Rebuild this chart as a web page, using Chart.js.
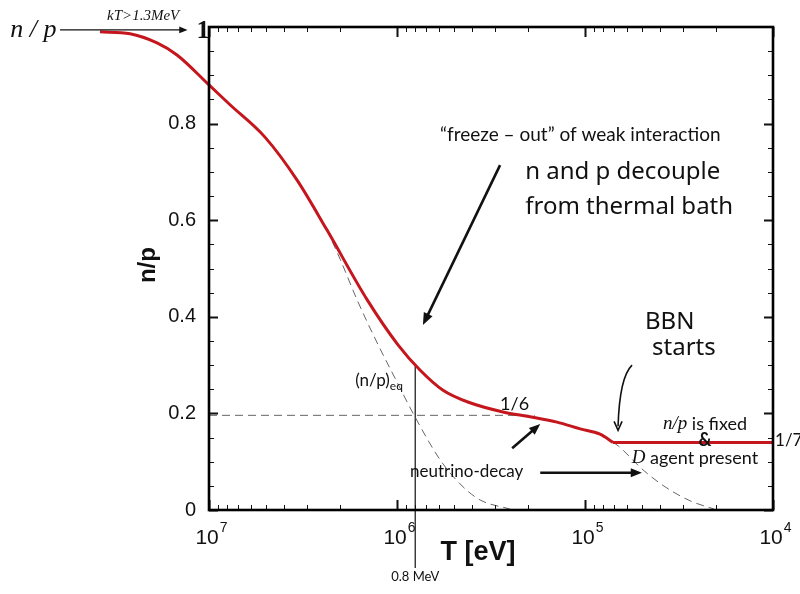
<!DOCTYPE html>
<html>
<head>
<meta charset="utf-8">
<script src="https://cdn.jsdelivr.net/npm/chart.js@4.4.1/dist/chart.umd.min.js"></script>
<style>
  html, body { margin: 0; padding: 0; background: #fff; }
  #wrap { width: 800px; height: 594px; position: relative; }
</style>
</head>
<body>
<div id="wrap"><canvas id="chart"></canvas></div>
<script>
// T in eV (log axis, hot on the left), n/p ratio on y
const freezeT  = [3.8e7, 2.63e7, 1.89e7, 1.48e7, 1.0e7, 7.73e6, 5.04e6, 3.40e6, 2.36e6, 1.44e6, 9.88e5, 7.55e5, 5.69e5, 4.09e5, 2.73e5, 1.96e5, 1.41e5, 1.06e5, 8.32e4, 7.1e4];
const freezeNP = [0.990, 0.986, 0.967, 0.942, 0.880, 0.839, 0.772, 0.683, 0.580, 0.435, 0.342, 0.290, 0.248, 0.222, 0.203, 0.193, 0.182, 0.168, 0.157, 0.140];
const fixedT  = [7.1e4, 1e4];
const fixedNP = [0.140, 0.140];
const eqT  = [2.36e6, 2.0e6, 1.63e6, 1.26e6, 1.0e6, 8.13e5, 5.9e5, 4.62e5, 3.62e5, 2.51e5];
const eqNP = [0.580, 0.518, 0.435, 0.342, 0.265, 0.197, 0.104, 0.054, 0.021, 0.002];
const decayT  = [7.1e4, 6.67e4, 4.91e4, 3.75e4, 2.76e4, 2.06e4];
const decayNP = [0.140, 0.133, 0.083, 0.048, 0.019, 0.002];
const refT  = [1e7, 1.85e5];
const refNP = [0.196, 0.196];
const markT  = [8e5, 8e5];
const markNP = [0.30, -0.12];

const decades = [1e4, 1e5, 1e6, 1e7];
const yLabels = [0, 0.2, 0.4, 0.6, 0.8];
const ySteps = [0, 0.05, 0.1, 0.15, 0.2, 0.25, 0.3, 0.35, 0.4, 0.45, 0.5, 0.55, 0.6, 0.65, 0.7, 0.75, 0.8, 0.85, 0.9, 0.95, 1];

const RED = '#c4161c';
const GREY = '#666';
const GILL = 'Lato';
const HAND = "'Noto Sans'";

const pts = (xs, ys) => xs.map((t, i) => ({ x: t, y: ys[i] }));
const isDecade = v => decades.some(d => Math.abs(v / d - 1) < 1e-9);

const xTickValues = decades.flatMap(d => d === 1e7 ? [d] : [1, 2, 3, 4, 5, 6, 7, 8, 9].map(k => k * d));

function arrow(ctx, a, b, w, head) {
  const ang = Math.atan2(b.y - a.y, b.x - a.x);
  ctx.lineWidth = w;
  ctx.beginPath();
  ctx.moveTo(a.x, a.y);
  ctx.lineTo(b.x - Math.cos(ang) * head * 0.7, b.y - Math.sin(ang) * head * 0.7);
  ctx.stroke();
  ctx.beginPath();
  ctx.moveTo(b.x, b.y);
  ctx.lineTo(b.x - head * Math.cos(ang - 0.38), b.y - head * Math.sin(ang - 0.38));
  ctx.lineTo(b.x - head * Math.cos(ang + 0.38), b.y - head * Math.sin(ang + 0.38));
  ctx.closePath();
  ctx.fill();
}

const overlay = {
  id: 'overlay',
  afterDatasetsDraw(chart) {
    const { ctx, chartArea: a, scales: { x, y } } = chart;
    const at = (t, v) => ({ x: x.getPixelForValue(t), y: y.getPixelForValue(v) });
    ctx.save();

    // inward tick marks on all four sides
    ctx.strokeStyle = '#111';
    x.ticks.forEach(t => {
      const p = Math.round(x.getPixelForValue(t.value)) + 0.5;
      const major = isDecade(t.value);
      const len = major ? 10 : 5;
      ctx.lineWidth = major ? 2 : 1;
      ctx.beginPath();
      ctx.moveTo(p, a.bottom); ctx.lineTo(p, a.bottom - len);
      ctx.moveTo(p, a.top); ctx.lineTo(p, a.top + len);
      ctx.stroke();
    });
    ySteps.forEach(v => {
      const p = Math.round(y.getPixelForValue(v)) + 0.5;
      const major = yLabels.includes(v);
      const len = major ? 9 : 5;
      ctx.lineWidth = major ? 2 : 1;
      ctx.beginPath();
      ctx.moveTo(a.left, p); ctx.lineTo(a.left + len, p);
      ctx.moveTo(a.right, p); ctx.lineTo(a.right - len, p);
      ctx.stroke();
    });

    // frame
    ctx.lineWidth = 2.6;
    ctx.strokeStyle = '#000';
    ctx.strokeRect(a.left, a.top, a.right - a.left, a.bottom - a.top);

    ctx.fillStyle = '#111';
    ctx.strokeStyle = '#111';
    ctx.textBaseline = 'middle';
    const text = (s, p, font, align = 'left') => {
      ctx.font = font; ctx.textAlign = align; ctx.fillText(s, p.x, p.y);
    };

    // decade labels 10^n with raised exponent
    decades.forEach(d => {
      const px = x.getPixelForValue(d);
      const py = a.bottom + 28;
      ctx.font = '21px "Liberation Sans"';
      const wb = ctx.measureText('10').width;
      ctx.font = '14px "Liberation Sans"';
      const we = ctx.measureText(String(Math.log10(d))).width;
      const x0 = px - (wb + we) / 2 + 2;
      text('10', { x: x0, y: py }, '21px "Liberation Sans"');
      text(String(Math.round(Math.log10(d))), { x: x0 + wb + 1, y: py - 10 }, '14px "Liberation Sans"');
    });

    // axis titles
    text('T [eV]', at(3.71e5, -0.089), 'bold 27px "Liberation Sans"', 'center');
    const yt = at(2.11e7, 0.507);
    ctx.save();
    ctx.translate(yt.x, yt.y);
    ctx.rotate(-Math.PI / 2);
    text('n/p', { x: 0, y: 0 }, 'bold 24px "Liberation Sans"', 'center');
    ctx.restore();

    // top-left: n/p -> 1 for kT > 1.3 MeV
    text('n / p', at(8.6e7, 0.994), 'italic 26px "Liberation Serif"', 'center');
    text('kT>1.3MeV', at(2.24e7, 1.022), 'italic 15px "Liberation Serif"', 'center');
    arrow(ctx, at(6.2e7, 0.994), at(1.30e7, 0.994), 1.2, 9);
    text('1', at(1.076e7, 0.992), 'bold 26px "Liberation Serif"', 'center');

    // freeze-out
    text('\u201cfreeze \u2013 out\u201d of weak interaction', at(5.9e5, 0.776), `19px ${GILL}`);
    text('n and p decouple', at(2.08e5, 0.700), `24px ${HAND}`);
    text('from thermal bath', at(2.08e5, 0.627), `24px ${HAND}`);
    arrow(ctx, at(2.83e5, 0.714), at(7.28e5, 0.383), 2.6, 13);

    // (n/p)eq at 0.8 MeV
    const eq = at(1.67e6, 0.269);
    text('(n/p)', eq, `17px ${GILL}`);
    const w = ctx.measureText('(n/p)').width;
    text('eq', { x: eq.x + w, y: eq.y + 6 }, `12px ${GILL}`);
    text('0.8 MeV', at(8e5, -0.139), `13px ${GILL}`, 'center');

    text('1/6', at(2.83e5, 0.219), `18px ${GILL}`);
    text('neutrino-decay', at(8.53e5, 0.079), `17px ${GILL}`);
    arrow(ctx, at(2.44e5, 0.128), at(1.73e5, 0.178), 2.6, 12);
    arrow(ctx, at(1.73e5, 0.077), at(4.98e4, 0.077), 2.6, 12);

    // BBN starts
    text('BBN', at(4.8e4, 0.389), `24px ${HAND}`);
    text('starts', at(4.4e4, 0.335), `24px ${HAND}`);
    const b0 = at(5.62e4, 0.300), bc = at(6.55e4, 0.275), b1 = at(6.67e4, 0.165);
    ctx.lineWidth = 1.6;
    ctx.beginPath();
    ctx.moveTo(b0.x, b0.y);
    ctx.quadraticCurveTo(bc.x, bc.y, b1.x, b1.y - 4);
    ctx.stroke();
    ctx.beginPath();
    ctx.moveTo(b1.x - 4, b1.y - 9); ctx.lineTo(b1.x, b1.y); ctx.lineTo(b1.x + 4, b1.y - 9);
    ctx.stroke();

    // frozen ratio
    const f = at(2.3e4, 0.178);
    ctx.font = 'italic 19px "Liberation Serif"';
    const w1 = ctx.measureText('n/p').width;
    ctx.font = `18px ${GILL}`;
    const w2 = ctx.measureText(' is fixed').width;
    text('n/p', { x: f.x - (w1 + w2) / 2, y: f.y }, 'italic 19px "Liberation Serif"');
    text(' is fixed', { x: f.x - (w1 + w2) / 2 + w1, y: f.y }, `18px ${GILL}`);
    text('&', at(2.3e4, 0.144), `bold 18px ${GILL}`, 'center');
    const d = at(2.6e4, 0.108);
    ctx.font = 'italic 19px "Liberation Serif"';
    const w3 = ctx.measureText('D').width;
    ctx.font = `18px ${GILL}`;
    const w4 = ctx.measureText(' agent present').width;
    text('D', { x: d.x - (w3 + w4) / 2, y: d.y }, 'italic 19px "Liberation Serif"');
    text(' agent present', { x: d.x - (w3 + w4) / 2 + w3, y: d.y }, `18px ${GILL}`);
    text('1/7', at(9.75e3, 0.143), `17px ${GILL}`);

    ctx.restore();
  }
};

Chart.defaults.font.family = '"Liberation Sans", Arial, sans-serif';
Chart.defaults.color = '#111';

new Chart(document.getElementById('chart'), {
  type: 'line',
  data: {
    datasets: [
      { data: pts(freezeT, freezeNP), borderColor: RED, borderWidth: 3, cubicInterpolationMode: 'monotone', clip: false },
      { data: pts(fixedT, fixedNP), borderColor: RED, borderWidth: 3 },
      { data: pts(eqT, eqNP), borderColor: GREY, borderWidth: 1, borderDash: [8, 5], cubicInterpolationMode: 'monotone' },
      { data: pts(decayT, decayNP), borderColor: GREY, borderWidth: 1, borderDash: [8, 5], cubicInterpolationMode: 'monotone' },
      { data: pts(refT, refNP), borderColor: GREY, borderWidth: 1, borderDash: [8, 5] },
      { data: pts(markT, markNP), borderColor: '#111', borderWidth: 1.2, clip: false },
    ],
  },
  options: {
    responsive: true,
    maintainAspectRatio: false,
    animation: false,
    layout: { padding: { left: 0, right: 27, top: 27, bottom: 0 } },
    elements: { point: { radius: 0 }, line: { fill: false } },
    plugins: { legend: { display: false }, tooltip: { enabled: false } },
    scales: {
      x: {
        type: 'logarithmic',
        reverse: true,
        min: 1e4,
        max: 1e7,
        grid: { display: false, drawTicks: false },
        border: { display: false },
        afterBuildTicks: s => { s.ticks = xTickValues.map(v => ({ value: v, major: isDecade(v) })); },
        afterFit: s => { s.height = 84; },
        ticks: { display: false, autoSkip: false },
      },
      y: {
        min: 0,
        max: 1,
        grid: { display: false, drawTicks: false },
        border: { display: false },
        afterBuildTicks: s => { s.ticks = ySteps.map(v => ({ value: v })); },
        afterFit: s => { s.width = 209; },
        ticks: {
          autoSkip: false,
          padding: 13,
          font: { size: 20 },
          callback: v => yLabels.includes(v) ? String(v) : '',
        },
      },
    },
  },
  plugins: [overlay],
});
</script>
</body>
</html>
